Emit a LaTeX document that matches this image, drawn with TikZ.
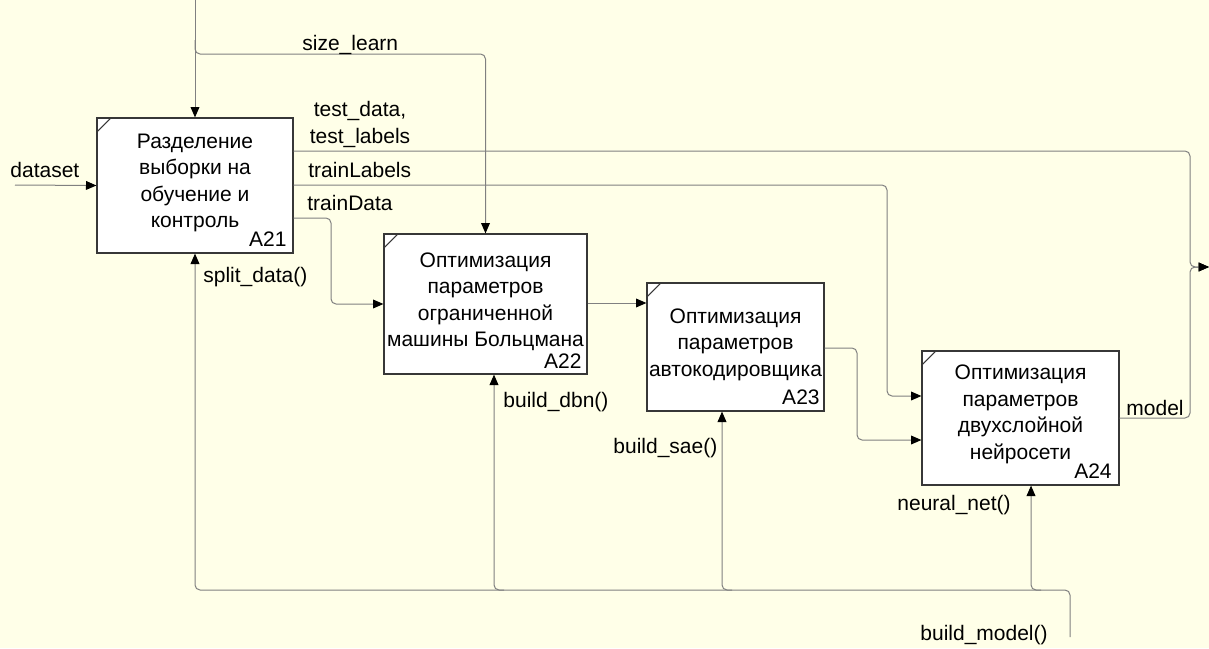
\documentclass[tikz,border=0pt]{standalone}
\usepackage{fontspec}
\setmainfont{Liberation Sans}
\usetikzlibrary{arrows.meta}
\definecolor{paper}{RGB}{255,255,232}
\definecolor{wirecol}{RGB}{128,128,128}
\definecolor{framecol}{RGB}{55,55,55}
\tikzset{
  actbox/.style={draw=framecol, fill=white, line width=0.6pt, inner sep=0pt},
  cornermark/.style={draw=framecol, line width=0.5pt},
  % multi-line text: the base anchor sits on the last line
  boxtext/.style={align=center, anchor=base, inner sep=0pt},
  boxnum/.style={anchor=base east, inner sep=0pt},
  lbl/.style={anchor=base west, inner sep=0pt},
  wire/.style={draw=wirecol, line width=0.5pt, rounded corners=2.5pt},
  flow/.style={wire, -{Triangle[length=5.2pt,width=4.4pt,color=black]}}
}
\begin{document}
\begin{tikzpicture}[x=0.5pt, y=-0.5pt, font=\fontsize{10.5}{13.25}\selectfont]
  % canvas
  \fill[paper] (0,0) rectangle (1209,648);
  \useasboundingbox (0,0) rectangle (1209,648);

  % activity boxes
  \node[actbox, minimum width=98pt,   minimum height=67.5pt] (a21) at (195,185.5) {};
  \node[actbox, minimum width=101.5pt, minimum height=70pt]  (a22) at (485.5,304) {};
  \node[actbox, minimum width=88.5pt, minimum height=64pt]   (a23) at (735.5,347) {};
  \node[actbox, minimum width=98.5pt, minimum height=67pt]   (a24) at (1020.5,418) {};

  % corner ticks
  \foreach \b in {a21,a22,a23,a24}
    \draw[cornermark] ([yshift=-7.5pt]\b.north west) -- ([xshift=7.5pt]\b.north west);

  % box titles (positioned by the baseline of their last line)
  \node[boxtext] (t21) at (195,227.5) {Разделение\\выборки на\\обучение и\\контроль};
  \node[boxtext] (t22) at (485.5,346.5) {Оптимизация\\параметров\\ограниченной\\машины Больцмана};
  \node[boxtext] (t23) at (735.5,376) {Оптимизация\\параметров\\автокодировщика};
  \node[boxtext] (t24) at (1020.5,459) {Оптимизация\\параметров\\двухслойной\\нейросети};

  % box numbers
  \node[boxnum] (n21) at (287,246) {A21};
  \node[boxnum] (n22) at (582,368) {A22};
  \node[boxnum] (n23) at (820,404) {A23};
  \node[boxnum] (n24) at (1112,478) {A24};

  % free ends
  \coordinate (ctl) at (195,0);
  \coordinate (dsin) at (15,185);
  \coordinate (j) at (1190,267);
  \coordinate (out) at (1209,267);
  \coordinate (bm) at (1070,637);

  % controls and inputs
  \draw[flow] (ctl) -- (a21.north);
  \draw[flow] (ctl |- 0,40) |- (a22.north |- 0,54) -- (a22.north);
  \draw[flow] (dsin) -- (a21.west);

  % outputs of A21
  \draw[flow] (a21.east |- 0,151) -| (j) -- (out);
  \draw[flow] (a21.east |- 0,185) -| (887,396) -- (a24.west |- 0,396);
  \draw[flow] (a21.east |- 0,218) -| (331,304) -- (a22.west |- 0,304);

  % chain A22 -> A23 -> A24
  \draw[flow] (a22.east |- 0,303) -- (a23.west |- 0,303);
  \draw[flow] (a23.east |- 0,348) -| (857,440) -- (a24.west |- 0,440);
  \draw[flow] (a24.east |- 0,418) -| (j) -- (out);

  % mechanisms
  \draw[flow] (bm) |- (a21.south |- 0,590) -- (a21.south);
  \draw[flow] (504,590) -| (a22.south -| 494,0);
  \draw[flow] (732,590) -| (a23.south -| 722,0);
  \draw[flow] (1041,590) -| (a24.south -| 1031,0);

  % arrow labels
  \node[lbl] (lsize) at (302,50) {size\_learn};
  \node[boxtext] (ltest) at (360,143) {test\_data,\\test\_labels};
  \node[lbl] (ltl) at (308,177) {trainLabels};
  \node[lbl] (ltd) at (307,210) {trainData};
  \node[lbl] (lds) at (10,177) {dataset};
  \node[lbl] (lsplit) at (203,282) {split\_data()};
  \node[lbl] (ldbn) at (503,407) {build\_dbn()};
  \node[lbl] (lsae) at (613,453) {build\_sae()};
  \node[lbl] (lnn) at (897,510) {neural\_net()};
  \node[lbl] (lbm) at (920,640) {build\_model()};
  \node[lbl] (lmodel) at (1126,415) {model};
\end{tikzpicture}
\end{document}
